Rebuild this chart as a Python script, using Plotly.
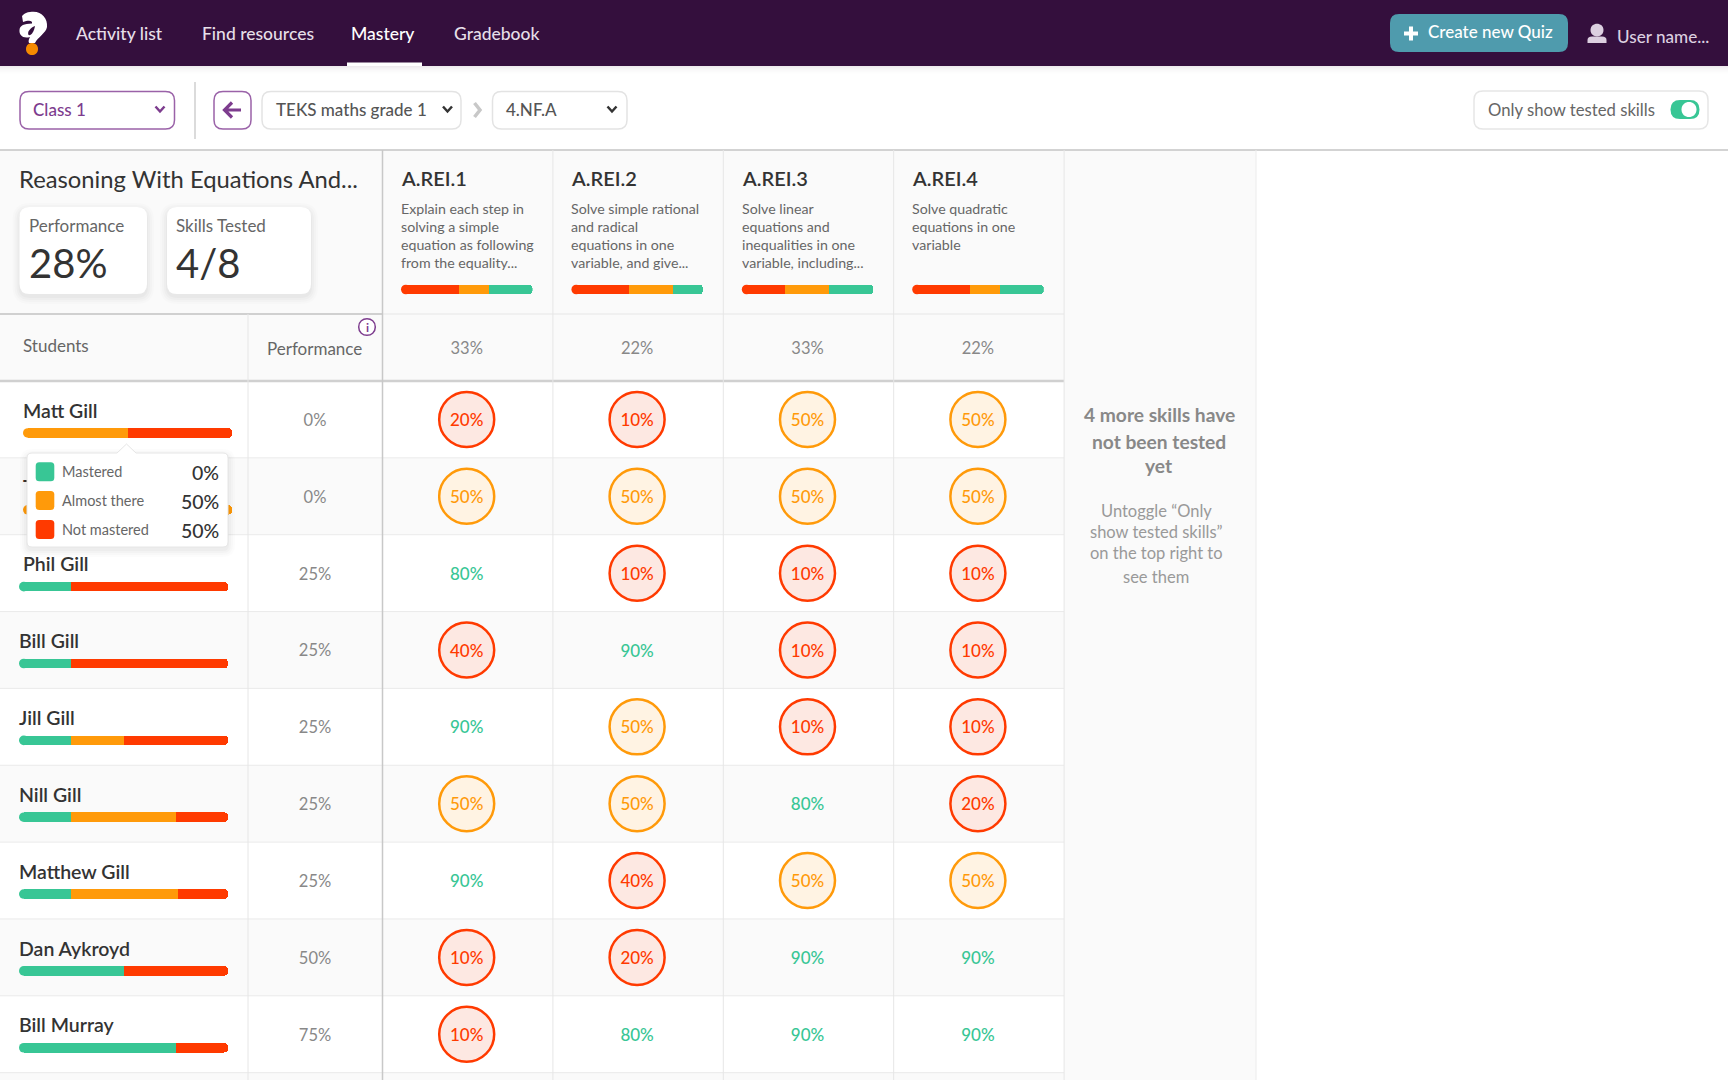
import plotly.graph_objects as go

W, H = 1728, 1080

# data
# second name is hidden behind the tooltip, only the T shows
students = ["Matt Gill", "T", "Phil Gill", "Bill Gill", "Jill Gill", "Nill Gill",
            "Matthew Gill", "Dan Aykroyd", "Bill Murray"]
performance = [0, 0, 25, 25, 25, 25, 25, 50, 75]
bar_mastered = [0, 0, 25, 25, 25, 25, 25, 50, 75]
bar_almost = [50, 100, 0, 0, 25, 50, 51, 0, 0]
bar_not = [50, 0, 75, 75, 50, 25, 24, 50, 25]

skills = ["A.REI.1", "A.REI.2", "A.REI.3", "A.REI.4"]
skill_avg = [33, 22, 33, 22]
skill_desc = [
    ["Explain each step in", "solving a simple", "equation as following", "from the equality..."],
    ["Solve simple rational", "and radical", "equations in one", "variable, and give..."],
    ["Solve linear", "equations and", "inequalities in one", "variable, including..."],
    ["Solve quadratic", "equations in one", "variable"],
]
skill_not = [44, 44, 33, 44]
skill_almost = [23, 33, 33, 23]
skill_mastered = [33, 23, 34, 33]
scores = [
    [20, 50, 80, 40, 90, 50, 90, 10, 10],
    [10, 50, 10, 90, 50, 50, 40, 20, 80],
    [50, 50, 10, 10, 10, 80, 50, 90, 90],
    [50, 50, 10, 10, 10, 20, 50, 90, 90],
]
tip_labels = ["Mastered", "Almost there", "Not mastered"]
tip_values = ["0%", "50%", "50%"]

GREEN, ORANGE, RED = "#38c695", "#ff9a0a", "#ff3a00"
PURPLE = "#7d3c8e"
FONT = "Lato"

ROW_TOP, ROW_H = 381, 76.85
COL_LEFT, COL_W = 382.5, 170.4
BAR_H = 9.6
STUDENT_W, SKILL_W = 209, 131.6
# bars only round their far end, so the first piece gives up this much to a round cap
STUDENT_CAP = 100 * (BAR_H / 2) / STUDENT_W
SKILL_CAP = 100 * (BAR_H / 2) / SKILL_W


def xdom(a, b):
    return [a / W, b / W]


def ydom(a, b):
    return [1 - b / H, 1 - a / H]


def hidden(**kw):
    return dict(visible=False, fixedrange=True, **kw)


def rrect(x0, y0, x1, y1, r):
    return (f"M {x0+r} {y0} L {x1-r} {y0} Q {x1} {y0} {x1} {y0+r} L {x1} {y1-r} Q {x1} {y1} {x1-r} {y1} "
            f"L {x0+r} {y1} Q {x0} {y1} {x0} {y1-r} L {x0} {y0+r} Q {x0} {y0} {x0+r} {y0} Z")


shapes = []
annotations = []


def box(x0, y0, x1, y1, fill, layer="below"):
    shapes.append(dict(type="rect", xref="x", yref="y", x0=x0, y0=y0, x1=x1, y1=y1, fillcolor=fill,
                       line_width=0, layer=layer))


def path(d, fill="rgba(0,0,0,0)", line=None, lw=0, layer="below"):
    shapes.append(dict(type="path", xref="x", yref="y", path=d, fillcolor=fill, layer=layer,
                       line=dict(color=line or "rgba(0,0,0,0)", width=lw)))


def hline(y, x0, x1, color, w=1):
    shapes.append(dict(type="line", xref="x", yref="y", x0=x0, x1=x1, y0=y, y1=y,
                       line=dict(color=color, width=w), layer="below"))


def vline(x, y0, y1, color, w=1):
    shapes.append(dict(type="line", xref="x", yref="y", x0=x, x1=x, y0=y0, y1=y1,
                       line=dict(color=color, width=w), layer="below"))


def label(x, y, text, size, color, anchor="left", weight=None):
    if anchor == "left":
        x -= 1.2
    annotations.append(dict(xref="x", yref="y", x=x, y=y, text=text, showarrow=False, xanchor=anchor,
                            yanchor="middle", borderpad=0, align=anchor,
                            font=dict(family=FONT, size=size, color=color, weight=weight)))


def shadow(x0, y0, x1, y1, r, layer="below"):
    for grow, alpha in [(7, 0.012), (5, 0.014), (3, 0.018), (1, 0.022)]:
        path(rrect(x0 - grow, y0 - grow + 3, x1 + grow, y1 + grow + 3, r + grow),
             fill=f"rgba(0,0,0,{alpha})", layer=layer)


def chevron(x, y, color):
    path(f"M {x-4.5} {y-2.5} L {x} {y+2.5} L {x+4.5} {y-2.5}", line=color, lw=2.5)


def trim_first(columns, cap):
    # takes the cap off whichever piece comes first in each bar
    out = [list(c) for c in columns]
    for r in range(len(columns[0])):
        for c in out:
            if c[r] > 0:
                c[r] -= cap
                break
    return out


# panels and row stripes
box(0, 150, 1064, 381, "#fafafa")
box(1064, 150, 1256, 1080, "#fafafa")
for i in range(1, len(students) + 1, 2):
    box(0, ROW_TOP + i * ROW_H, 1064, ROW_TOP + (i + 1) * ROW_H, "#fafafa")
for i in range(1, len(students) + 1):
    hline(ROW_TOP + i * ROW_H, 0, 1064, "#eaeaea")
hline(150, 0, W, "#c4c4c4", 1.5)
hline(314, 0, 382, "#d0d0d0", 2)
hline(314, 382, 1064, "#e6e6e6")
hline(381, 0, 1064, "#d0d0d0", 2.5)
vline(248, 314, H, "#e6e6e6")
vline(382.5, 150, H, "#c8c8c8", 1.5)
for i in (1, 2, 3, 4):
    vline(COL_LEFT + i * COL_W, 150, H, "#e6e6e6")
vline(1256, 150, H, "#ececec")

# nav bar
for i, a in enumerate([0.07, 0.05, 0.03, 0.015]):
    box(0, 66, W, 67.5 + i * 2, f"rgba(50,20,60,{a * 0.5})")
box(0, 0, W, 66, "#340f3d")
box(347, 62.5, 422, 66, "#ffffff")
path("M 30 12 C 41 10 48 18 47 27 C 46 33 38 37 35 43 L 29 43 C 28 41 29 39 30 37 "
     "C 23 39 19 35 19.5 30 C 20 25 24 24 32 23.5 C 33 20 28 20 23 22 L 22 16 C 25 13 27 12 30 12 Z", fill="#ffffff")
path("M 35 26 C 30 28 27 32 28.5 35 C 31 36 34 32 35 26 Z", fill="#340f3d")
path("M 26 49 C 26 41 38 41 38 49 C 38 57 26 57 26 49 Z", fill="#f58a00")
for x, t in [(76, "Activity list"), (202, "Find resources"), (454.5, "Gradebook")]:
    label(x, 33, t, 17.5, "#e6dfe8", weight=500)
label(351, 33, "Mastery", 17.5, "#ffffff", weight=500)
path(rrect(1390, 14, 1568, 52, 9), fill="#4f9bad")
path("M 1404 33.5 L 1418 33.5 M 1411 26.5 L 1411 40.5", line="#ffffff", lw=4)
label(1428, 31, "Create new Quiz", 17, "#ffffff", weight=500)
path("M 1590.5 30 C 1590.5 21.5 1603.5 21.5 1603.5 30 C 1603.5 38.5 1590.5 38.5 1590.5 30 Z", fill="#dccfe0")
path("M 1587.5 43 L 1587.5 40 Q 1587.5 36.5 1592 36.5 L 1602 36.5 Q 1606.5 36.5 1606.5 40 L 1606.5 43 Z", fill="#dccfe0")
label(1617.5, 36, "User name...", 17.1, "#dccfe0", weight=500)

# toolbar
path(rrect(20, 91.5, 174.5, 129, 9), fill="#ffffff", line="#9a62a8", lw=1.5)
label(33.5, 109.5, "Class 1", 17, PURPLE, weight=500)
chevron(160, 109, PURPLE)
vline(195, 82, 139, "#cfcfcf", 1.5)
path(rrect(214, 91.5, 251, 129, 9), fill="#ffffff", line="#9a62a8", lw=1.5)
path("M 225 110 L 241 110 M 232 102.5 L 224.5 110 L 232 117.5", line=PURPLE, lw=3.2)
path(rrect(262, 91.5, 461, 129, 9), fill="#ffffff", line="#e3e3e3", lw=1.5)
label(276, 109.5, "TEKS maths grade 1", 17, "#555555", weight=500)
chevron(447.5, 109, "#333333")
path("M 474.5 103 L 480 110 L 474.5 117", line="#c8c8c8", lw=3.5)
path(rrect(492.5, 91.5, 627, 129, 9), fill="#ffffff", line="#e3e3e3", lw=1.5)
label(506.5, 109.5, "4.NF.A", 17, "#555555", weight=500)
chevron(612, 109, "#333333")
path(rrect(1474, 91, 1708, 129, 9), fill="#ffffff", line="#e6e6e6", lw=1.5)
label(1488, 110, "Only show tested skills", 16.7, "#666666")
path(rrect(1670.5, 100, 1699.5, 119, 9.5), fill=GREEN)
path("M 1681.5 109.5 C 1681.5 99.5 1696.5 99.5 1696.5 109.5 C 1696.5 119.5 1681.5 119.5 1681.5 109.5 Z", fill="#ffffff")

# header block
label(19, 179, "Reasoning With Equations And...", 23.8, "#333333")
for x0, x1, title, big in [(19.5, 147, "Performance", "28%"), (167, 311, "Skills Tested", "4/8")]:
    shadow(x0, 207, x1, 294, 10)
    path(rrect(x0, 207, x1, 294, 10), fill="#ffffff")
    label(x0 + 9.5, 225.5, title, 17, "#666666")
    label(x0 + 9.5, 263, big, 40, "#333333")
for i, name in enumerate(skills):
    x = 401 + i * COL_W
    label(x, 178, name, 20, "#333333", weight=600)
    for j, line in enumerate(skill_desc[i]):
        label(x, 208 + j * 18, line, 14.2, "#666666")
label(23, 345, "Students", 17, "#666666")
label(314.5, 348, "Performance", 17, "#666666", anchor="center")
path("M 358.7 327 C 358.7 316 375.3 316 375.3 327 C 375.3 338 358.7 338 358.7 327 Z", fill="#ffffff", line=PURPLE, lw=1.5)
label(367, 327, "i", 12, PURPLE, anchor="center", weight=700)

# right hand note
for y, t in [(414.5, "4 more skills have"), (441.5, "not been tested"), (465, "yet")]:
    label(1159, y, t, 19.2, "#888888", anchor="center", weight=700)
for y, t in [(511, "Untoggle “Only"), (532, "show tested skills”"), (553, "on the top right to"), (577, "see them")]:
    label(1156, y, t, 16.5, "#999999", anchor="center")

# tooltip over the first rows
shadow(27, 453, 228, 547, 5, layer="above")
path("M 27 458 Q 27 453 32 453 L 117 453 L 126.5 444 L 136 453 L 223 453 Q 228 453 228 458 L 228 542 Q 228 547 223 547 "
     "L 32 547 Q 27 547 27 542 Z", fill="#ffffff", line="#e6e6e6", lw=1, layer="above")
for i, (lab, val, col) in enumerate(zip(tip_labels, tip_values, [GREEN, ORANGE, RED])):
    y = 471.7 + i * 28.9
    path(rrect(35.7, y - 9.5, 54.3, y + 9.5, 3.5), fill=col, layer="above")
    label(62, y, lab, 14.5, "#666666")
    label(219.5, y + 1, val, 19.5, "#333333", anchor="right", weight=500)

traces = [go.Scatter(x=[0], y=[0], mode="markers", marker=dict(opacity=0), hoverinfo="skip")]

# score cells, the text sits a little under the middle of each circle
for col, fill, test in [(RED, "#fde8e2", lambda v: v < 50), (ORANGE, "#fff3e3", lambda v: v == 50), (GREEN, None, lambda v: v > 50)]:
    xs, ys, ts = [], [], []
    for c, vals in enumerate(scores):
        for r, v in enumerate(vals):
            if test(v):
                xs.append(c)
                ys.append(r)
                ts.append(f"{v}%")
    if fill:
        traces.append(go.Scatter(x=xs, y=ys, mode="markers", xaxis="x2", yaxis="y2", hoverinfo="skip",
                                 marker=dict(size=55, color=fill, line=dict(color=col, width=2.5))))
    traces.append(go.Scatter(x=xs, y=[v + 0.03 for v in ys], text=ts, mode="text", textposition="middle center",
                             xaxis="x2", yaxis="y2", hoverinfo="skip",
                             textfont=dict(family=FONT, size=17, color=col, weight=500)))
# column averages above the first row
traces.append(go.Scatter(x=list(range(len(skills))), y=[-0.9] * len(skills), text=[f"{v}%" for v in skill_avg],
                         mode="text", textposition="middle center", xaxis="x2", yaxis="y2",
                         textfont=dict(family=FONT, size=16.5, color="#888888"), hoverinfo="skip"))
# performance column
traces.append(go.Scatter(x=[0] * len(students), y=[r + 0.03 for r in range(len(students))],
                         text=[f"{v}%" for v in performance],
                         mode="text", textposition="middle center", xaxis="x5", yaxis="y2",
                         textfont=dict(family=FONT, size=16.5, color="#888888"), hoverinfo="skip"))

# student bars, the first two rows sit a little to the right in the screenshot
trimmed = trim_first([bar_mastered, bar_almost, bar_not], STUDENT_CAP)
for rows, xax in [([0, 1], "x4"), (list(range(2, len(students))), "x3")]:
    for vals, col in zip(trimmed, [GREEN, ORANGE, RED]):
        traces.append(go.Bar(y=rows, x=[vals[r] for r in rows], orientation="h", marker=dict(color=col, line_width=0),
                             width=0.125, offset=0.1135, xaxis=xax, yaxis="y2", hoverinfo="skip"))
    caps = [GREEN if bar_mastered[r] else ORANGE if bar_almost[r] else RED for r in rows]
    traces.append(go.Scatter(x=[0] * len(rows), y=[r + 0.176 for r in rows], mode="markers", xaxis=xax, yaxis="y2",
                             marker=dict(size=BAR_H, color=caps, line_width=0), hoverinfo="skip"))
    # Phil Gill's name lines up with the two rows above it, not with his own bar
    name_x = [-STUDENT_CAP + (1.9 if r == 2 else 0) for r in rows]
    traces.append(go.Scatter(x=name_x, y=[r - 0.087 for r in rows], text=[students[r] for r in rows],
                             mode="text", textposition="middle right", xaxis=xax, yaxis="y2", cliponaxis=False,
                             textfont=dict(family=FONT, size=19.5, color="#333333", weight=600), hoverinfo="skip"))

layout_axes = dict(
    xaxis=hidden(range=[0, W], domain=[0, 1]),
    yaxis=hidden(range=[H, 0], domain=[0, 1]),
    xaxis2=hidden(range=[-0.5, len(skills) - 0.5], domain=xdom(COL_LEFT - 1, COL_LEFT - 1 + 4 * COL_W), anchor="y2"),
    # one extra row on top for the column averages
    yaxis2=hidden(range=[len(students) - 0.5, -1.5], domain=ydom(ROW_TOP - ROW_H, ROW_TOP + len(students) * ROW_H), anchor="x2"),
    xaxis3=hidden(range=[-STUDENT_CAP, 100 - STUDENT_CAP], domain=xdom(19, 19 + STUDENT_W), anchor="y2"),
    xaxis4=hidden(range=[-STUDENT_CAP, 100 - STUDENT_CAP], domain=xdom(23, 23 + STUDENT_W), anchor="y2"),
    xaxis5=hidden(range=[-0.5, 0.5], domain=xdom(248, 382), anchor="y2"),
    yaxis3=hidden(range=[-0.5, 0.5], domain=ydom(284.7, 294.3)),
)

# skill summary bars, one small axis each
skill_trimmed = trim_first([skill_not, skill_almost, skill_mastered], SKILL_CAP)
for i in range(len(skills)):
    ax = f"x{6 + i}"
    left = 401 + i * COL_W
    layout_axes[f"xaxis{6 + i}"] = hidden(range=[-SKILL_CAP, 100 - SKILL_CAP], domain=xdom(left, left + SKILL_W), anchor="y3")
    for vals, col in zip(skill_trimmed, [RED, ORANGE, GREEN]):
        traces.append(go.Bar(y=[0], x=[vals[i]], orientation="h", width=1, marker=dict(color=col, line_width=0),
                             xaxis=ax, yaxis="y3", hoverinfo="skip"))
    traces.append(go.Scatter(x=[0], y=[0], mode="markers", xaxis=ax, yaxis="y3", cliponaxis=False,
                             marker=dict(size=BAR_H, color=RED, line_width=0), hoverinfo="skip"))

fig = go.Figure(data=traces)
fig.update_layout(
    width=W, height=H, margin=dict(l=0, r=0, t=0, b=0), autosize=False,
    paper_bgcolor="#ffffff", plot_bgcolor="rgba(0,0,0,0)", showlegend=False,
    barmode="stack", barcornerradius=5, hovermode=False,
    font=dict(family=FONT), shapes=shapes, annotations=annotations, **layout_axes,
)
# page margin would push the figure off the 1728x1080 window
fig.write_html("out.html", config={"displayModeBar": False}, post_script="document.body.style.margin = '0';")
